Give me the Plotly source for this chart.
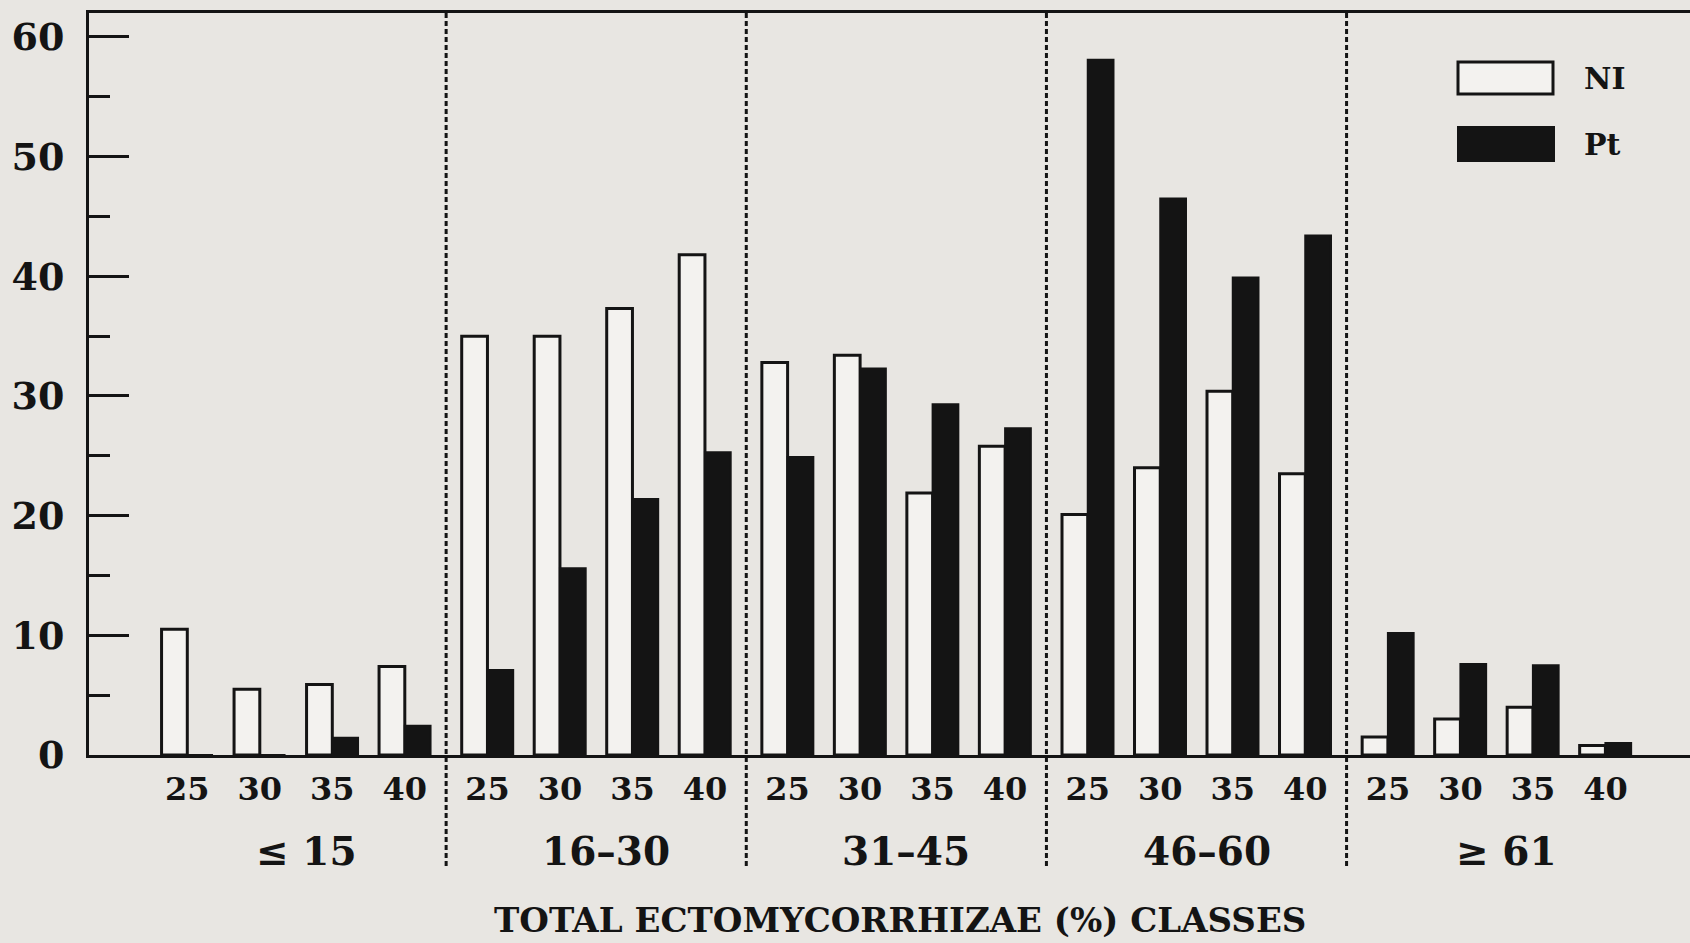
import plotly.graph_objects as go

# ---- data ----
classes = ["≤ 15", "16–30", "31–45", "46–60", "≥ 61"]
subcats = ["25", "30", "35", "40"]
ni = [10.5, 5.5, 5.9, 7.4,
      35.0, 35.0, 37.3, 41.8,
      32.8, 33.4, 21.9, 25.8,
      20.1, 24.0, 30.4, 23.5,
      1.5, 3.0, 4.0, 0.8]
pt = [0.0, 0.0, 1.45, 2.45,
      7.1, 15.6, 21.4, 25.3,
      24.9, 32.3, 29.3, 27.3,
      58.1, 46.5, 39.9, 43.4,
      10.2, 7.6, 7.5, 1.0]
y_ticks = [0, 10, 20, 30, 40, 50, 60]

# ---- layout helpers ----
GROUP_STEP = 4.14
xpos = [g * GROUP_STEP + s for g in range(len(classes)) for s in range(len(subcats))]
xlabels = [s for g in range(len(classes)) for s in subcats]

INK = "#141414"
BG = "#e8e6e2"
LIGHT = "#f3f2ef"
FONT = "DejaVu Serif"

fig = go.Figure()
fig.add_trace(go.Bar(x=xpos, y=ni, name="NI", marker=dict(color=LIGHT, line=dict(color=INK, width=3)),
                     showlegend=False))
fig.add_trace(go.Bar(x=xpos, y=pt, name="Pt", marker=dict(color=INK, line=dict(color=INK, width=2)),
                     showlegend=False))

L, R, T, B = 89, 0, 13, 188
W, H = 1690, 943
pw, ph = W - L - R, H - T - B


def px(xp):
    return (xp - L) / pw


def py(yp):
    return (H - B - yp) / ph


shapes = []
# dashed separators between classes
for g in range(len(classes) - 1):
    xs = g * GROUP_STEP + 3 + (GROUP_STEP - 3) / 2
    shapes.append(dict(type="line", xref="x", yref="paper", x0=xs, x1=xs, y0=py(866), y1=1,
                       line=dict(color=INK, width=3, dash="5px,3px")))
# legend boxes
shapes.append(dict(type="rect", xref="paper", yref="paper", x0=px(1458), x1=px(1553), y0=py(94), y1=py(62),
                   fillcolor=LIGHT, line=dict(color=INK, width=3)))
shapes.append(dict(type="rect", xref="paper", yref="paper", x0=px(1458), x1=px(1554), y0=py(161), y1=py(127),
                   fillcolor=INK, line=dict(color=INK, width=2)))

annotations = []
for g, c in enumerate(classes):
    annotations.append(dict(x=g * GROUP_STEP + 1.5, y=py(851), xref="x", yref="paper", text=c, showarrow=False,
                            xshift=10, xanchor="center", yanchor="middle",
                            font=dict(family=FONT, size=39, color=INK, weight="bold")))
annotations.append(dict(x=px(900), y=py(920), xref="paper", yref="paper",
                        text="TOTAL ECTOMYCORRHIZAE (%) CLASSES", showarrow=False,
                        xanchor="center", yanchor="middle",
                        font=dict(family=FONT, size=34, color=INK, weight="bold")))
annotations.append(dict(x=px(1582), y=py(78), xref="paper", yref="paper", text="NI", showarrow=False,
                        xanchor="left", yanchor="middle",
                        font=dict(family=FONT, size=30, color=INK, weight="bold")))
annotations.append(dict(x=px(1582), y=py(144), xref="paper", yref="paper", text="Pt", showarrow=False,
                        xanchor="left", yanchor="middle",
                        font=dict(family=FONT, size=30, color=INK, weight="bold")))

fig.update_layout(
    width=W, height=H,
    margin=dict(l=L, r=R, t=T, b=B, pad=0),
    paper_bgcolor=BG, plot_bgcolor=BG,
    barmode="group", bargap=0.29, bargroupgap=0,
    shapes=shapes, annotations=annotations,
    xaxis=dict(range=[(L - 187.3) / 72.5, (1690 - 187.3) / 72.5], tickmode="array", tickvals=xpos,
               ticktext=xlabels, showline=True, linecolor=INK, linewidth=3, mirror=True,
               showgrid=False, zeroline=False, ticks="", ticklabelstandoff=4,
               tickfont=dict(family=FONT, size=32, color=INK, weight="bold")),
    yaxis=dict(range=[0, 62], tickmode="array", tickvals=y_ticks, showline=True, linecolor=INK,
               linewidth=3, showgrid=False, zeroline=False, ticks="inside", ticklen=40, tickwidth=3,
               tickcolor=INK, ticklabelstandoff=14,
               minor=dict(ticks="inside", ticklen=21, tickwidth=3, tickcolor=INK, dtick=5, tick0=0),
               tickfont=dict(family=FONT, size=38, color=INK, weight="bold")),
)

fig.write_html("out.html", config={"displayModeBar": False},
               post_script="document.body.style.margin='0';document.body.style.overflow='hidden';"
                           "document.documentElement.style.overflow='hidden';")
